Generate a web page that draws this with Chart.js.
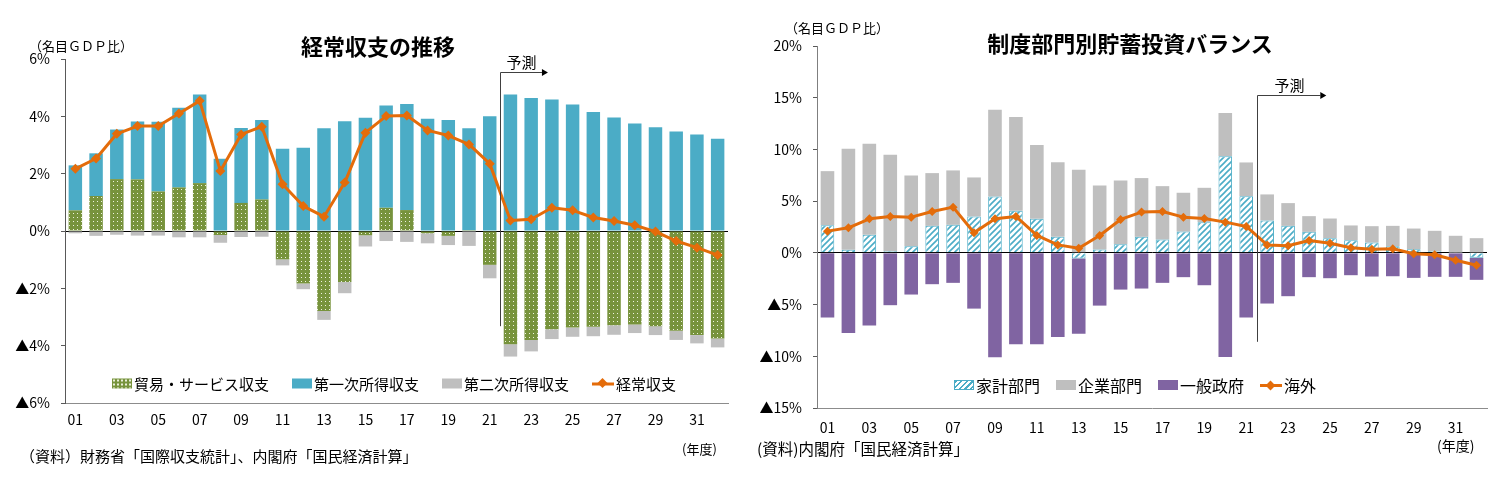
<!DOCTYPE html>
<html lang="ja">
<head>
<meta charset="utf-8">
<title>経常収支の推移・制度部門別貯蓄投資バランス</title>
<script src="https://cdn.jsdelivr.net/npm/chart.js@4.4.1/dist/chart.umd.min.js"></script>
<style>
  body { margin: 0; background: #fff; font-family: "Noto Sans CJK JP", "Noto Sans", sans-serif; color: #000; }
  #wrap { position: relative; width: 1507px; height: 492px; overflow: hidden; }
  canvas { position: absolute; top: 0; }
  .txt { position: absolute; white-space: nowrap; line-height: 1; transform: translateY(-50%); }
  .title { font-weight: 700; font-size: 22px; transform: translate(-50%, -50%); }
  .legend { position: absolute; display: flex; align-items: center; white-space: nowrap; line-height: 1; transform: translateY(-50%); }
  .legend .item { display: flex; align-items: center; }
  .sw { display: inline-block; width: 20px; height: 10px; margin-right: 2px; box-sizing: border-box; }
  .sw.line { position: relative; width: 22px; height: 10px; }
  .sw.line::before { content: ""; position: absolute; left: 0; right: 0; top: 4px; height: 3px; background: #E46C0A; }
  .sw.line::after { content: ""; position: absolute; left: 7px; top: 1.5px; width: 7px; height: 7px; background: #E46C0A; transform: rotate(45deg); }
</style>
</head>
<body>
<div id="wrap">
  <canvas id="c1" width="745" height="492" style="left:0"></canvas>
  <canvas id="c2" width="762" height="492" style="left:745px"></canvas>

  <div class="txt title" style="left:378px;top:45px">経常収支の推移</div>
  <div class="txt" style="left:29px;top:45px;font-size:13px">（名目ＧＤＰ比）</div>
  <div class="txt" style="left:20px;top:455px;font-size:15px">（資料）財務省「国際収支統計」、内閣府「国民経済計算」</div>
  <div class="txt" style="left:682px;top:448px;font-size:13px">(年度)</div>
  <div class="legend" id="legend1" style="left:112px;top:383px;font-size:15px"></div>

  <div class="txt title" style="left:1130px;top:42px">制度部門別貯蓄投資バランス</div>
  <div class="txt" style="left:785px;top:27px;font-size:13px">（名目ＧＤＰ比）</div>
  <div class="txt" style="left:757px;top:449px;font-size:15.5px">(資料)内閣府「国民経済計算」</div>
  <div class="txt" style="left:1437px;top:445px;font-size:14px">(年度)</div>
  <div class="legend" id="legend2" style="left:954px;top:385px;font-size:16px"></div>
</div>

<script>
// fiscal years 2001-2032
const years = ["01","02","03","04","05","06","07","08","09","10","11","12","13","14","15","16",
               "17","18","19","20","21","22","23","24","25","26","27","28","29","30","31","32"];

// left chart: current account (% of nominal GDP)
const tradeBalance = [0.72,1.22,1.81,1.80,1.38,1.52,1.67,-0.14,0.98,1.10,-0.99,-1.83,-2.79,-1.78,-0.15,0.81,
                      0.73,-0.08,-0.17,0.03,-1.18,-3.95,-3.80,-3.43,-3.37,-3.34,-3.29,-3.26,-3.32,-3.48,-3.63,-3.75];
const primaryIncome = [1.57,1.49,1.73,2.02,2.43,2.78,3.09,2.52,2.61,2.77,2.87,2.90,3.58,3.83,3.95,3.57,
                       3.70,3.92,3.87,3.55,4.00,4.76,4.64,4.59,4.41,4.15,3.96,3.75,3.62,3.47,3.37,3.22];
const secondaryIncome = [-0.08,-0.17,-0.13,-0.16,-0.16,-0.22,-0.22,-0.27,-0.21,-0.20,-0.21,-0.20,-0.31,-0.39,-0.39,-0.35,
                         -0.38,-0.35,-0.32,-0.52,-0.47,-0.43,-0.40,-0.34,-0.32,-0.33,-0.33,-0.30,-0.31,-0.32,-0.29,-0.31];
const currentAccount = [2.17,2.53,3.39,3.66,3.66,4.10,4.54,2.09,3.37,3.64,1.63,0.87,0.50,1.69,3.43,4.01,
                        4.03,3.51,3.33,3.02,2.35,0.37,0.41,0.81,0.72,0.47,0.35,0.20,-0.02,-0.35,-0.58,-0.84];

// right chart: saving-investment balance by sector
const household = [2.68,0.29,1.74,0.16,0.65,2.61,2.71,3.52,5.45,4.06,3.29,1.55,-0.55,0.32,0.84,1.55,
                   1.29,2.06,2.97,9.35,5.48,3.13,2.61,2.03,1.42,1.23,1.00,0.65,0.35,0.16,0.03,-0.48];
const corporate = [5.22,9.77,8.81,9.32,6.83,5.10,5.26,3.77,8.39,9.07,7.13,7.22,8.03,6.20,6.16,5.68,
                   5.16,3.75,3.32,4.17,3.26,2.52,2.20,1.52,1.90,1.42,1.58,1.96,2.00,1.97,1.62,1.42];
const government = [-6.26,-7.74,-7.03,-5.06,-4.03,-3.03,-2.90,-5.39,-10.10,-8.84,-8.84,-8.13,-7.26,-5.10,-3.55,-3.45,
                    -2.90,-2.35,-3.13,-10.06,-6.26,-4.90,-4.19,-2.35,-2.45,-2.16,-2.29,-2.26,-2.42,-2.32,-2.32,-2.13];
const overseas = [2.10,2.42,3.29,3.52,3.45,4.00,4.42,1.94,3.29,3.52,1.68,0.77,0.45,1.68,3.23,3.94,
                  4.00,3.45,3.32,2.97,2.55,0.77,0.68,1.20,0.93,0.50,0.35,0.40,-0.08,-0.18,-0.72,-1.19];

const GREEN = "#77933C", BLUE = "#4BACC6", GRAY = "#BFBFBF", PURPLE = "#8064A2", ORANGE = "#E46C0A";

Chart.defaults.font.family = '"Noto Sans CJK JP", "Noto Sans", sans-serif';
Chart.defaults.font.size = 14;
Chart.defaults.color = "#000";

function makeDots(color) {
  const c = document.createElement("canvas");
  c.width = 4; c.height = 4;
  const g = c.getContext("2d");
  g.fillStyle = color; g.fillRect(0, 0, 4, 4);
  g.fillStyle = "#eef2e0"; g.fillRect(1, 1, 1, 1);
  return g.createPattern(c, "repeat");
}

function makeHatch(color) {
  const c = document.createElement("canvas");
  c.width = 6; c.height = 6;
  const g = c.getContext("2d");
  g.fillStyle = "#fff"; g.fillRect(0, 0, 6, 6);
  g.strokeStyle = color; g.lineWidth = 1.6;
  g.beginPath();
  g.moveTo(0, 6); g.lineTo(6, 0);
  g.moveTo(-1, 1); g.lineTo(1, -1);
  g.moveTo(5, 7); g.lineTo(7, 5);
  g.stroke();
  return g.createPattern(c, "repeat");
}

// vertical line + arrow marking where the forecast starts
const forecastMark = {
  id: "forecastMark",
  afterDatasetsDraw(chart, args, opts) {
    const ctx = chart.ctx, xs = chart.scales.x, ys = chart.scales.y;
    const step = xs.getPixelForValue(1) - xs.getPixelForValue(0);
    const x = Math.round((xs.getPixelForValue(opts.after) + xs.getPixelForValue(opts.after + 1)) / 2) + 0.5;
    const yTop = Math.round(ys.getPixelForValue(opts.top)) + 0.5;
    const yBot = ys.getPixelForValue(opts.bottom);
    const x2 = x + opts.arrow * step;
    ctx.save();
    ctx.strokeStyle = "#404040";
    ctx.lineWidth = 1;
    ctx.beginPath();
    ctx.moveTo(x, yBot); ctx.lineTo(x, yTop); ctx.lineTo(x2, yTop);
    ctx.stroke();
    ctx.fillStyle = "#000";
    ctx.beginPath();
    ctx.moveTo(x2 + 6, yTop); ctx.lineTo(x2, yTop - 3.5); ctx.lineTo(x2, yTop + 3.5);
    ctx.closePath(); ctx.fill();
    ctx.font = '15px "Noto Sans CJK JP"';
    ctx.textBaseline = "bottom";
    ctx.fillText(opts.label, x + opts.labelOffset, yTop - 3);
    ctx.restore();
  }
};

function pctLabel(v) {
  return v < 0 ? "▲" + (-v) + "%" : v + "%";
}

function makeOptions(o) {
  return {
    responsive: false,
    animation: false,
    layout: { padding: { left: 0, right: o.padRight, top: o.padTop, bottom: 0 } },
    plugins: {
      legend: { display: false },
      tooltip: { enabled: false },
      forecastMark: o.forecast
    },
    scales: {
      x: {
        stacked: true,
        grid: { display: false, drawTicks: false },
        border: { display: true, color: "#8c8c8c" },
        ticks: {
          autoSkip: false, maxRotation: 0, padding: o.xPad,
          callback: function (v, i) { return i % 2 === 0 ? this.getLabelForValue(v) : ""; }
        },
        afterFit: s => { s.height = o.xHeight; }
      },
      y: {
        stacked: true,
        min: o.min, max: o.max,
        ticks: { stepSize: o.step, padding: 11, callback: pctLabel },
        grid: {
          color: c => (c.tick && c.tick.value === 0 ? "#000" : "rgba(0,0,0,0)"),
          tickColor: "#595959", tickLength: 4
        },
        border: { display: true, color: o.yBorder },
        afterFit: s => { s.width = o.yWidth; }
      }
    }
  };
}

const bar = (label, data, bg, extra) => Object.assign({
  type: "bar", label, data, backgroundColor: bg, borderWidth: 0,
  barPercentage: 0.65, categoryPercentage: 1, order: 1, stack: "s"
}, extra || {});

const line = (label, data, w, r) => ({
  type: "line", label, data, borderColor: ORANGE, backgroundColor: ORANGE, borderWidth: w,
  pointStyle: "rectRot", pointRadius: r, pointBorderWidth: 0, pointBackgroundColor: ORANGE,
  tension: 0, order: 0, stack: "line", borderJoinStyle: "round"
});

const chart1 = new Chart(document.getElementById("c1"), {
  data: {
    labels: years,
    datasets: [
      bar("貿易・サービス収支", tradeBalance, makeDots(GREEN)),
      bar("第一次所得収支", primaryIncome, BLUE),
      bar("第二次所得収支", secondaryIncome, GRAY),
      line("経常収支", currentAccount, 3, 5)
    ]
  },
  options: makeOptions({
    min: -6, max: 6, step: 2, yWidth: 65, xHeight: 89, padTop: 59, padRight: 17, xPad: 8,
    yBorder: "#595959",
    forecast: { after: 20, top: 5.53, bottom: -3.32, arrow: 2.0, label: "予測", labelOffset: 6 }
  }),
  plugins: [forecastMark]
});

const chart2 = new Chart(document.getElementById("c2"), {
  data: {
    labels: years,
    datasets: [
      bar("家計部門", household, makeHatch(BLUE), { borderWidth: 1, borderColor: BLUE }),
      bar("企業部門", corporate, GRAY),
      bar("一般政府", government, PURPLE),
      line("海外", overseas, 3, 4.5)
    ]
  },
  options: makeOptions({
    min: -15, max: 20, step: 5, yWidth: 72, xHeight: 84, padTop: 46, padRight: 20, xPad: 11,
    yBorder: "#7f7f7f",
    forecast: { after: 20, top: 15.3, bottom: -8.6, arrow: 3.0, label: "予測", labelOffset: 17 }
  }),
  plugins: [forecastMark]
});

// html legends built from the datasets
const swatchCss = {
  "貿易・サービス収支": "background-color:" + GREEN + ";background-image:radial-gradient(circle,#eef2e0 0.7px,transparent 0.9px);background-size:4px 4px",
  "第一次所得収支": "background:" + BLUE,
  "第二次所得収支": "background:" + GRAY,
  "家計部門": "background:repeating-linear-gradient(135deg," + BLUE + " 0 1.5px,#fff 1.5px 4px);border:1px solid " + BLUE,
  "企業部門": "background:" + GRAY,
  "一般政府": "background:" + PURPLE
};

function buildLegend(chart, el, gap) {
  chart.data.datasets.forEach((ds, i) => {
    const item = document.createElement("span");
    item.className = "item";
    if (i > 0) item.style.marginLeft = gap + "px";
    const sw = document.createElement("span");
    if (ds.type === "line") {
      sw.className = "sw line";
    } else {
      sw.className = "sw";
      sw.style.cssText = swatchCss[ds.label];
    }
    item.appendChild(sw);
    item.appendChild(document.createTextNode(ds.label));
    el.appendChild(item);
  });
}
buildLegend(chart1, document.getElementById("legend1"), 23);
buildLegend(chart2, document.getElementById("legend2"), 16);
</script>
</body>
</html>
